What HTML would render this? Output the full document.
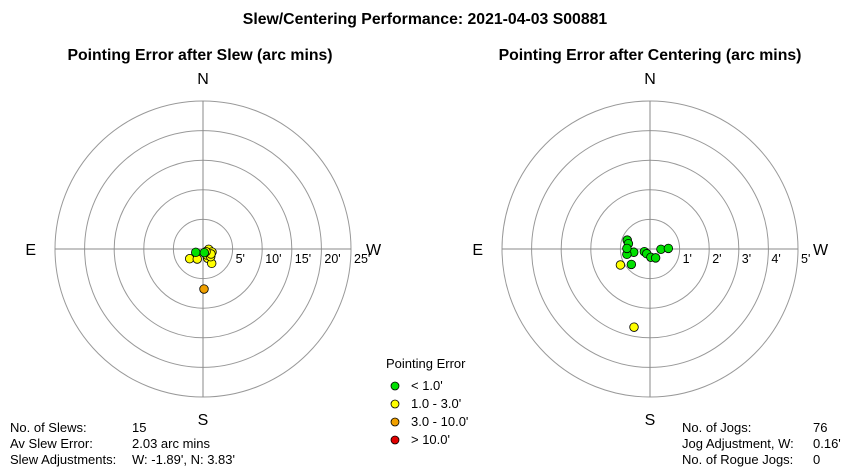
<!DOCTYPE html>
<html><head><meta charset="utf-8"><style>
body{margin:0;background:#fff;}
svg{display:block;font-family:"Liberation Sans",Arial,sans-serif;}
</style></head><body>
<svg id="chart" width="850" height="470" viewBox="0 0 850 470" xmlns="http://www.w3.org/2000/svg">
<rect width="850" height="470" fill="#fff"/>
<text x="425" y="24" text-anchor="middle" font-size="15.8" font-weight="bold">Slew/Centering Performance: 2021-04-03 S00881</text>
<text x="200" y="60" text-anchor="middle" font-size="15.8" font-weight="bold">Pointing Error after Slew (arc mins)</text>
<text x="650" y="60" text-anchor="middle" font-size="15.8" font-weight="bold">Pointing Error after Centering (arc mins)</text>
<g id="left"></g>
<g id="right"></g>
<g font-size="13">
<text x="386" y="368">Pointing Error</text>
<circle cx="395" cy="386" r="4" fill="#00e000" stroke="#000" stroke-width="0.8"/><text x="411" y="390">&lt; 1.0'</text>
<circle cx="395" cy="404" r="4" fill="#ffff00" stroke="#000" stroke-width="0.8"/><text x="411" y="408">1.0 - 3.0'</text>
<circle cx="395" cy="422" r="4" fill="#f0a000" stroke="#000" stroke-width="0.8"/><text x="411" y="426">3.0 - 10.0'</text>
<circle cx="395" cy="440" r="4" fill="#e00000" stroke="#000" stroke-width="0.8"/><text x="411" y="444">&gt; 10.0'</text>
</g>
<g font-size="13">
<text x="10" y="432">No. of Slews:</text><text x="132" y="432">15</text>
<text x="10" y="448">Av Slew Error:</text><text x="132" y="448">2.03 arc mins</text>
<text x="10" y="464">Slew Adjustments:</text><text x="132" y="464">W: -1.89', N: 3.83'</text>
</g>
<g font-size="13">
<text x="682" y="432">No. of Jogs:</text><text x="813" y="432">76</text>
<text x="682" y="448">Jog Adjustment, W:</text><text x="813" y="448">0.16'</text>
<text x="682" y="464">No. of Rogue Jogs:</text><text x="813" y="464">0</text>
</g>
</svg>
<script>
// Slew errors (arc mins): W positive, N positive
const slewW = [-2.25,-0.97,0.96,1.52,0.79,1.47,0.62,1.30,1.35,0.51,-1.22,0.22,0.17];
const slewN = [-1.64,-1.69,-0.05,-0.51,-1.57,-2.42,-1.01,-1.30,-0.84,-0.45,-0.56,-0.62,-6.76];
const slewCls = ['y','y','y','y','y','y','y','y','y','y','g','g','o'];
const slewTicks = ["5'","10'","15'","20'","25'"];
const slewMax = 25;
// Centering errors (arc mins)
const cenW = [-0.77,-0.73,-0.55,-0.78,-0.63,-0.19,-0.11,0.03,0.19,0.37,0.62,-0.78,-1.00,-0.54];
const cenN = [0.30,0.18,-0.11,-0.18,-0.52,-0.09,-0.16,-0.28,-0.30,-0.01,0.02,0.02,-0.54,-2.64];
const cenCls = ['g','g','g','g','g','g','g','g','g','g','g','g','y','y'];
const cenTicks = ["1'","2'","3'","4'","5'"];
const cenMax = 5;
const colors = {g:'#00e000',y:'#ffff00',o:'#f0a000',r:'#e00000'};
const NS='http://www.w3.org/2000/svg';
function mk(tag,attrs,parent){const e=document.createElementNS(NS,tag);for(const k in attrs)e.setAttribute(k,attrs[k]);parent.appendChild(e);return e;}
function polar(g,cx,cy,R,maxV,ticks,W,N,cls,prefix){
  const scale=v=>v/maxV*R;
  ticks.forEach((t,i)=>{
    const r=R*(i+1)/ticks.length;
    const c=mk('circle',{cx:cx,cy:cy,r:r,fill:'none',stroke:'#999','stroke-width':1},g);
    
    
    const tx=mk('text',{x:cx+r+3,y:cy+14,'font-size':12.5},g);tx.textContent=t;
    
    
  });
  mk('line',{x1:cx-R,y1:cy,x2:cx+R,y2:cy,stroke:'#888'},g);
  mk('line',{x1:cx,y1:cy-R,x2:cx,y2:cy+R,stroke:'#888'},g);
  const lab=[['N',cx,cy-R-17,'middle'],['S',cx,cy+R+28,'middle'],['E',cx-R-19,cy+6,'end'],['W',cx+R+15,cy+6,'start']];
  lab.forEach(l=>{const t=mk('text',{x:l[1],y:l[2],'text-anchor':l[3],'font-size':16},g);t.textContent=l[0];
    
    });
  W.forEach((w,i)=>{
    const p=mk('circle',{cx:cx+scale(w),cy:cy-scale(N[i]),r:4.3,fill:colors[cls[i]],stroke:'#000','stroke-width':0.8},g);
    
    
  });
}
polar(document.getElementById('left'),203,249,148,slewMax,slewTicks,slewW,slewN,slewCls,'slew');
polar(document.getElementById('right'),650,249,148,cenMax,cenTicks,cenW,cenN,cenCls,'centering');
</script>
</body></html>
